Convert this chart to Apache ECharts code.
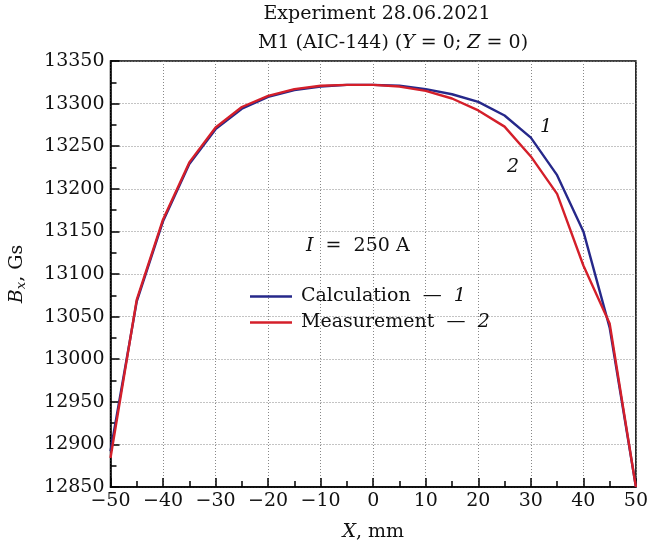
<!DOCTYPE html>
<html><head><meta charset="utf-8">
<script src="https://cdn.jsdelivr.net/npm/echarts@6/dist/echarts.min.js"></script>
<style>html,body{margin:0;padding:0;background:#fff}#c{width:651px;height:548px}</style>
</head><body><div id="c"></div>
<script>
const xValues = [-50,-45,-40,-35,-30,-25,-20,-15,-10,-5,0,5,10,15,20,25,30,35,40,45,50];
const calculation = [12892,13068,13162,13229,13270,13294,13308,13316,13320,13322,13322,13321,13317,13311,13302,13286,13260,13216,13150,13037,12850];
const measurement = [12884,13070,13164,13231,13272,13296,13309,13317,13321,13322,13322,13320,13315,13306,13292,13273,13238,13194,13110,13042,12850];
const seriesNames = ['Calculation','Measurement'];
const seriesNumbers = ['1','2'];
const FONT = '"DejaVu Serif", serif';
const FS = 19;
const C = '#111';
const chart = echarts.init(document.getElementById('c'));
const pair = a => xValues.map((x,i)=>[x,a[i]]);
chart.setOption({
  animation:false,
  textStyle:{fontFamily:FONT},
  title:[
    {text:'Experiment 28.06.2021', left:372, top:0, textAlign:'center',
     textStyle:{fontFamily:FONT,fontSize:FS,fontWeight:'normal',color:C}},
    {text:'M1 (AIC-144) ({i|Y} = 0; {i|Z} = 0)', left:388, top:29, textAlign:'center',
     textStyle:{fontFamily:FONT,fontSize:FS,fontWeight:'normal',color:C,
       rich:{i:{fontFamily:FONT,fontSize:FS,fontStyle:'italic',color:C}}}}
  ],
  grid:{left:107,right:14,top:61,bottom:61,show:true,borderColor:'#000',borderWidth:1.5,backgroundColor:'transparent'},
  legend:{
    orient:'vertical', left:245, top:282, itemGap:7, itemWidth:42, itemHeight:2.5, icon:'rect',
    data:seriesNames,
    formatter: n => n==='Calculation' ? '{t|Calculation  —  }{i|1}' : '{t|Measurement  —  }{i|2}',
    textStyle:{fontFamily:FONT,fontSize:FS,color:C,padding:[0,0,0,4],
      rich:{t:{fontFamily:FONT,fontSize:FS,color:C},i:{fontFamily:FONT,fontSize:FS,fontStyle:'italic',color:C}}}
  },
  xAxis:{
    type:'value', min:-50, max:50, interval:10,
    name:'{i|X}{t|, mm}', nameLocation:'middle', nameGap:36,
    nameTextStyle:{rich:{i:{fontFamily:FONT,fontSize:FS,fontStyle:'italic',color:C},t:{fontFamily:FONT,fontSize:FS,color:C}}},
    axisLine:{show:true,onZero:false,lineStyle:{color:'#000',width:1.5}},
    axisTick:{show:true,inside:true,length:9,lineStyle:{color:'#000',width:1.5}},
    minorTick:{show:true,splitNumber:2,length:6,lineStyle:{color:'#000',width:1.5}},
    axisLabel:{fontFamily:FONT,fontSize:FS,color:C,margin:5,formatter:v=>v<0?'\u2212'+Math.abs(v):String(v)},
    splitLine:{show:true,lineStyle:{color:'#888',type:[1,2],width:1}}
  },
  yAxis:{
    type:'value', min:12850, max:13350, interval:50,
    name:'{b|B}{s|x}{t|, Gs}', nameLocation:'middle', nameGap:82, nameRotate:90,
    nameTextStyle:{rich:{b:{fontFamily:FONT,fontSize:FS,fontStyle:'italic',color:C},
      s:{fontFamily:FONT,fontSize:13,fontStyle:'italic',color:C,padding:[9,0,0,0]},
      t:{fontFamily:FONT,fontSize:FS,color:C}}},
    axisLine:{show:true,onZero:false,lineStyle:{color:'#000',width:1.5}},
    axisTick:{show:true,inside:true,length:9,lineStyle:{color:'#000',width:1.5}},
    minorTick:{show:true,splitNumber:2,length:6,lineStyle:{color:'#000',width:1.5}},
    axisLabel:{fontFamily:FONT,fontSize:FS,color:C,margin:6,formatter:v=>String(v)},
    splitLine:{show:true,lineStyle:{color:'#888',type:[1,2],width:1}}
  },
  series:[
    {name:seriesNames[0],type:'line',data:pair(calculation),showSymbol:false,lineStyle:{color:'#26288a',width:2.4},itemStyle:{color:'#26288a'},z:2},
    {name:seriesNames[1],type:'line',data:pair(measurement),showSymbol:false,lineStyle:{color:'#d41f2a',width:2.4},itemStyle:{color:'#d41f2a'},z:3}
  ],
  graphic:[
    {type:'text',left:306,top:237,style:{text:'{i|I}  =  250 A',rich:{i:{fontFamily:FONT,fontSize:FS,fontStyle:'italic',fill:C}},fontFamily:FONT,fontSize:FS,fill:C}},
    {type:'text',left:540,top:118,style:{text:seriesNumbers[0],fontFamily:FONT,fontSize:FS,fontStyle:'italic',fill:C}},
    {type:'text',left:507,top:158,style:{text:seriesNumbers[1],fontFamily:FONT,fontSize:FS,fontStyle:'italic',fill:C}}
  ]
});
</script></body></html>
